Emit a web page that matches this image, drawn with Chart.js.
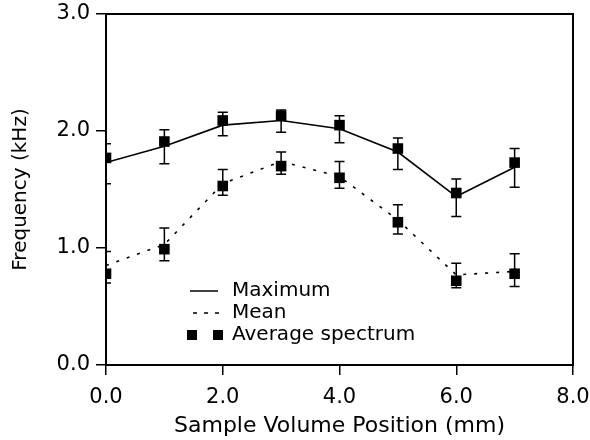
<!DOCTYPE html>
<html>
<head>
<meta charset="utf-8">
<script src="https://cdn.jsdelivr.net/npm/chart.js@4.4.1/dist/chart.umd.min.js"></script>
<style>
  html, body { margin: 0; background: #fff; }
  #wrap { width: 590px; height: 440px; }
</style>
</head>
<body>
<div id="wrap"><canvas id="chart"></canvas></div>
<script>
// Sample volume position (mm) and frequencies (kHz).
const positions = [0, 1, 2, 3, 4, 5, 6, 7];

const maxLine  = [1.73, 1.87, 2.05, 2.09, 2.02, 1.82, 1.44, 1.69];
const meanLine = [0.85, 1.03, 1.55, 1.74, 1.61, 1.24, 0.77, 0.80];

// Average spectrum squares with their error bars
const avgUpper   = [1.77, 1.91, 2.09, 2.13, 2.05, 1.85, 1.47, 1.73];
const upperHigh  = [1.89, 2.01, 2.16, 2.18, 2.13, 1.94, 1.59, 1.85];
const upperLow   = [1.55, 1.72, 1.96, 1.99, 1.90, 1.67, 1.27, 1.52];
const avgLower   = [0.78, 0.99, 1.53, 1.70, 1.60, 1.22, 0.72, 0.78];
const lowerHigh  = [0.97, 1.17, 1.67, 1.82, 1.74, 1.37, 0.87, 0.95];
const lowerLow   = [0.70, 0.89, 1.45, 1.63, 1.51, 1.12, 0.66, 0.67];

const xTicks = [0, 2, 4, 6, 8];
const yTicks = [0, 1, 2, 3];

const INK = '#000';
const FONT = '"DejaVu Sans", sans-serif';

Chart.defaults.color = INK;
Chart.defaults.font.family = FONT;

const pts = ys => positions.map((x, i) => ({ x, y: ys[i] }));

// vertical error bars with caps, clipped to the plot box
const errorBars = {
  id: 'errorBars',
  beforeDatasetsDraw(chart) {
    const { ctx, chartArea: a, scales: { x, y } } = chart;
    ctx.save();
    ctx.beginPath();
    ctx.rect(a.left, a.top, a.right - a.left, a.bottom - a.top);
    ctx.clip();
    ctx.strokeStyle = INK;
    ctx.lineWidth = 1.5;
    chart.data.datasets.forEach(ds => {
      if (!ds.errLow) return;
      ds.data.forEach((p, i) => {
        const px = x.getPixelForValue(p.x);
        const hi = y.getPixelForValue(ds.errHigh[i]);
        const lo = y.getPixelForValue(ds.errLow[i]);
        ctx.beginPath();
        ctx.moveTo(px, hi); ctx.lineTo(px, lo);
        ctx.moveTo(px - 5, hi); ctx.lineTo(px + 5, hi);
        ctx.moveTo(px - 5, lo); ctx.lineTo(px + 5, lo);
        ctx.stroke();
      });
    });
    ctx.restore();
  }
};

// legend sits inside the plot, lower left
const insideLegend = {
  id: 'insideLegend',
  afterDraw(chart) {
    const { ctx, chartArea: a } = chart;
    const x0 = a.left + 84, x1 = a.left + 112, tx = a.left + 126;
    const rows = [a.bottom - 74, a.bottom - 52, a.bottom - 30];
    ctx.save();
    ctx.strokeStyle = INK;
    ctx.fillStyle = INK;
    ctx.lineWidth = 1.5;

    ctx.beginPath();
    ctx.moveTo(x0, rows[0]); ctx.lineTo(x1, rows[0]);
    ctx.stroke();

    ctx.setLineDash([4, 7]);
    ctx.beginPath();
    ctx.moveTo(x0 + 3, rows[1]); ctx.lineTo(x1 + 4, rows[1]);
    ctx.stroke();
    ctx.setLineDash([]);

    ctx.fillRect(x0 - 3, rows[2] - 5, 10, 10);
    ctx.fillRect(x1 - 5, rows[2] - 5, 10, 10);

    ctx.font = '20px ' + FONT;
    ctx.textBaseline = 'middle';
    ctx.fillText('Maximum', tx, rows[0]);
    ctx.fillText('Mean', tx, rows[1]);
    ctx.fillText('Average spectrum', tx, rows[2]);
    ctx.restore();
  }
};

const boxEdge = { display: true, color: INK, width: 2 };

// keep edge tick labels from pushing the plot box inward
const noOverflow = s => {
  s.paddingLeft = 0; s.paddingRight = 0; s.paddingTop = 0; s.paddingBottom = 0;
};

new Chart(document.getElementById('chart'), {
  type: 'scatter',
  data: {
    datasets: [
      {
        label: 'Maximum',
        data: pts(maxLine),
        showLine: true,
        borderColor: INK,
        borderWidth: 1.6,
        pointRadius: 0
      },
      {
        label: 'Mean',
        data: pts(meanLine),
        showLine: true,
        borderColor: INK,
        borderWidth: 1.6,
        borderDash: [3, 8],
        pointRadius: 0
      },
      {
        label: 'Average spectrum',
        data: pts(avgUpper),
        errHigh: upperHigh,
        errLow: upperLow,
        pointStyle: 'rect',
        pointRadius: 7.5,
        backgroundColor: INK,
        borderColor: INK,
        borderWidth: 0,
        clip: 0
      },
      {
        label: 'Average spectrum',
        data: pts(avgLower),
        errHigh: lowerHigh,
        errLow: lowerLow,
        pointStyle: 'rect',
        pointRadius: 7.5,
        backgroundColor: INK,
        borderColor: INK,
        borderWidth: 0,
        clip: 0
      }
    ]
  },
  options: {
    responsive: true,
    maintainAspectRatio: false,
    animation: false,
    layout: { padding: { top: 14, right: 17, left: 0, bottom: 0 } },
    plugins: { legend: { display: false }, tooltip: { enabled: false } },
    scales: {
      x: {
        type: 'linear',
        min: 0,
        max: 8,
        afterBuildTicks: s => { s.ticks = xTicks.map(value => ({ value })); },
        afterFit: s => { s.height = 75; noOverflow(s); },
        ticks: { callback: v => v.toFixed(1), font: { size: 21 }, padding: 10, maxRotation: 0 },
        grid: { drawOnChartArea: false, tickLength: 10, color: INK, lineWidth: 1.5 },
        border: boxEdge,
        title: {
          display: true,
          text: 'Sample Volume Position (mm)',
          font: { size: 22 },
          padding: { top: 0, bottom: 1 }
        }
      },
      y: {
        type: 'linear',
        min: 0,
        max: 3,
        afterBuildTicks: s => { s.ticks = yTicks.map(value => ({ value })); },
        afterFit: s => { s.width = 106; noOverflow(s); },
        ticks: { callback: v => v.toFixed(1), font: { size: 21 }, padding: 6 },
        grid: { drawOnChartArea: false, tickLength: 10, color: INK, lineWidth: 1.5 },
        border: boxEdge,
        title: {
          display: true,
          text: 'Frequency (kHz)',
          font: { size: 20 },
          padding: { top: 9, bottom: 0 }
        }
      },
      x2: {
        type: 'linear',
        position: 'top',
        min: 0,
        max: 8,
        afterFit: s => { s.height = 0; noOverflow(s); },
        ticks: { display: false },
        grid: { display: false },
        border: boxEdge
      },
      y2: {
        type: 'linear',
        position: 'right',
        min: 0,
        max: 3,
        afterFit: s => { s.width = 0; noOverflow(s); },
        ticks: { display: false },
        grid: { display: false },
        border: boxEdge
      }
    }
  },
  plugins: [errorBars, insideLegend]
});
</script>
</body>
</html>
